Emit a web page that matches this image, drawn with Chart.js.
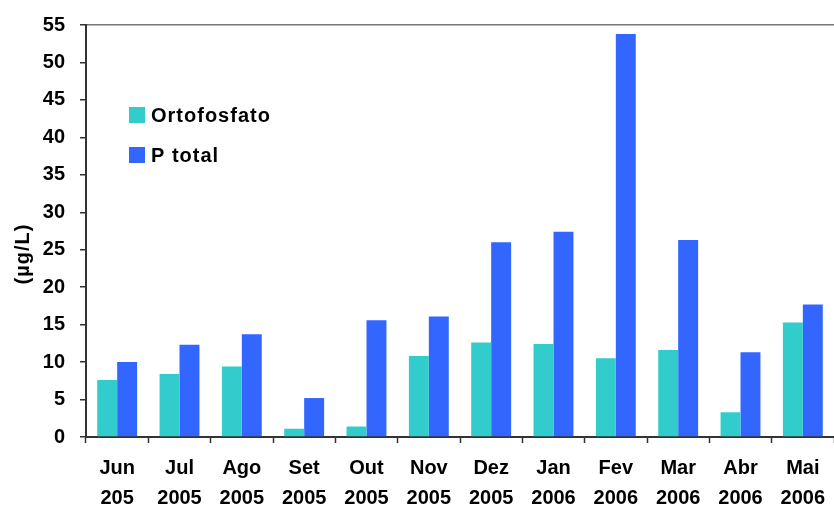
<!DOCTYPE html>
<html>
<head>
<meta charset="utf-8">
<script src="https://cdn.jsdelivr.net/npm/chart.js@4"></script>
<style>
  html, body { margin: 0; padding: 0; background: #fff; }
  #wrap { width: 834px; height: 506px; position: relative; }
</style>
</head>
<body>
<div id="wrap"><canvas id="myChart" width="834" height="506"></canvas></div>
<script>
  // Data
  var months = [
    ['Jun', '205'], ['Jul', '2005'], ['Ago', '2005'], ['Set', '2005'],
    ['Out', '2005'], ['Nov', '2005'], ['Dez', '2005'], ['Jan', '2006'],
    ['Fev', '2006'], ['Mar', '2006'], ['Abr', '2006'], ['Mai', '2006']
  ];
  var ortofosfato = [7.6, 8.4, 9.4, 1.1, 1.4, 10.8, 12.6, 12.4, 10.5, 11.6, 3.3, 15.3];
  var pTotal = [10.0, 12.3, 13.7, 5.2, 15.6, 16.1, 26.0, 27.4, 53.8, 26.3, 11.3, 17.7];
  var yTicks = [0, 5, 10, 15, 20, 25, 30, 35, 40, 45, 50, 55];
  var yTitle = '(µg/L)';

  var fontFamily = 'Arial, "Liberation Sans", sans-serif';

  // Legend boxes inside the plot and rotated axis title
  var extras = {
    id: 'extras',
    afterDraw: function (chart) {
      var c = chart.ctx;
      c.save();
      c.letterSpacing = '1px';
      c.font = 'bold 20px ' + fontFamily;
      c.textBaseline = 'middle';
      c.textAlign = 'left';
      var rows = [115, 155];
      chart.data.datasets.forEach(function (ds, i) {
        c.fillStyle = ds.backgroundColor;
        c.fillRect(129, rows[i] - 8, 16, 16);
        c.fillStyle = '#000';
        c.fillText(ds.label, 151, rows[i] + 1);
      });
      c.translate(23, 254);
      c.rotate(-Math.PI / 2);
      c.textAlign = 'center';
      c.fillText(yTitle, 0, 0);
      c.restore();
    }
  };

  var ctx = document.getElementById('myChart').getContext('2d');
  var myChart = new Chart(ctx, {
    type: 'bar',
    data: {
      labels: months,
      datasets: [
        {
          label: 'Ortofosfato',
          data: ortofosfato,
          backgroundColor: '#33CCCC',
          barPercentage: 1.0,
          categoryPercentage: 0.64
        },
        {
          label: 'P total',
          data: pTotal,
          backgroundColor: '#3366FF',
          barPercentage: 1.0,
          categoryPercentage: 0.64
        }
      ]
    },
    options: {
      responsive: false,
      animation: false,
      layout: { padding: { top: 25, right: 0, left: 0, bottom: 0 } },
      plugins: {
        legend: { display: false },
        tooltip: { enabled: false }
      },
      scales: {
        x: {
          offset: true,
          grid: {
            offset: true,
            drawOnChartArea: false,
            tickLength: 6,
            tickColor: '#333',
            tickWidth: 1.5
          },
          border: { color: '#333', width: 2 },
          ticks: {
            color: '#000',
            font: { family: fontFamily, size: 20, weight: 'bold', lineHeight: 1.5 },
            padding: 10,
            maxRotation: 0,
            autoSkip: false
          },
          afterFit: function (scale) {
            scale.height = 69;
            scale.paddingLeft = 0;
            scale.paddingRight = 0;
          }
        },
        y: {
          min: 0,
          max: 55,
          afterBuildTicks: function (scale) {
            scale.ticks = yTicks.map(function (v) { return { value: v }; });
          },
          grid: {
            color: function (c) { return c.tick && c.tick.value === 55 ? '#777' : 'rgba(0,0,0,0)'; },
            lineWidth: 1.5,
            tickLength: 6,
            tickColor: '#333',
            tickWidth: 1.5
          },
          border: { color: '#333', width: 2 },
          ticks: {
            color: '#000',
            font: { family: fontFamily, size: 20, weight: 'bold' },
            padding: 15
          },
          afterFit: function (scale) {
            scale.width = 86;
            scale.paddingTop = 0;
            scale.paddingBottom = 0;
          }
        }
      }
    },
    plugins: [extras]
  });
</script>
</body>
</html>
